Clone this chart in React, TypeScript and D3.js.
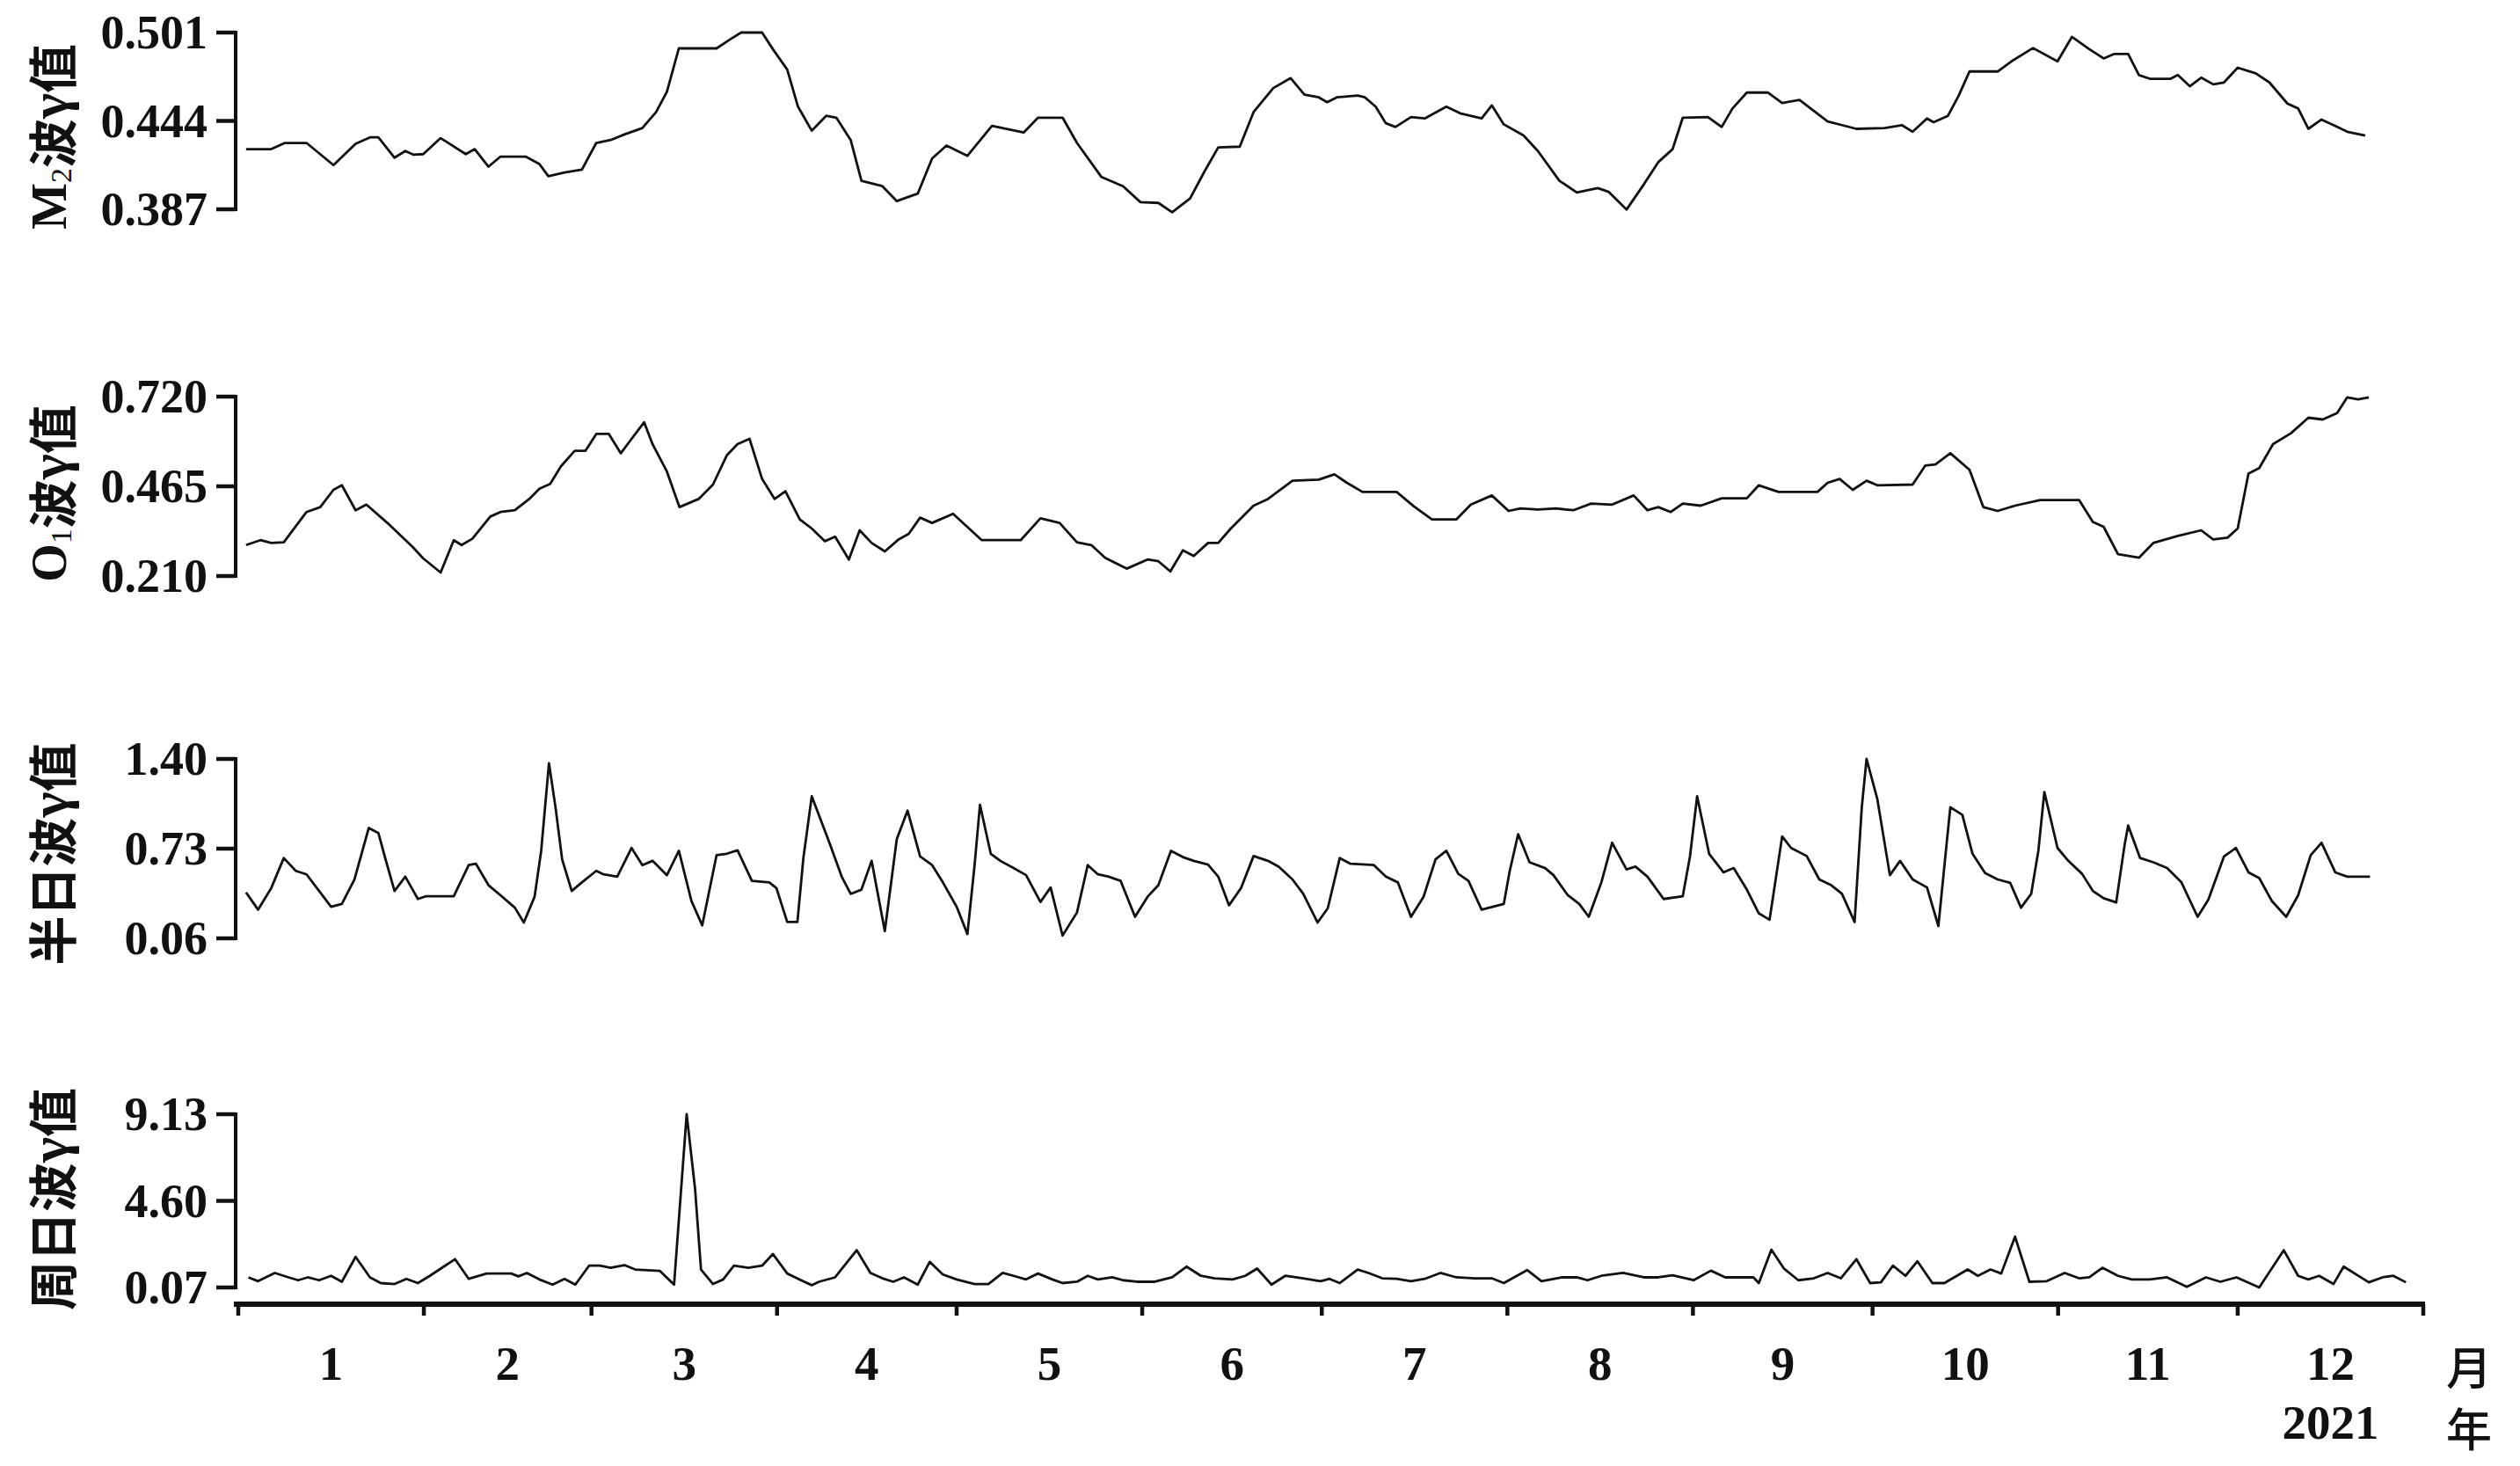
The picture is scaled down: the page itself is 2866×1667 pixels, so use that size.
import React from 'react';
import * as d3 from 'd3';

// month axis
const monthLabels = ['1', '2', '3', '4', '5', '6', '7', '8', '9', '10', '11', '12'];
const yearLabel = '2021';
const monthUnit = '月';
const yearUnit = '年';

// y tick values per panel
const m2Ticks = [0.387, 0.444, 0.501];
const o1Ticks = [0.210, 0.465, 0.720];
const semiTicks = [0.06, 0.73, 1.40];
const diurnalTicks = [0.07, 4.60, 9.13];

// [day of year, gamma value]
const m2Data: [number, number][] = [
  [1.3, 0.4258], [5.5, 0.4258], [7.8, 0.4298], [11.4, 0.4298], [15.9, 0.4155], [19.6, 0.4293],
  [22.0, 0.4334], [23.4, 0.4334], [26.1, 0.4203], [27.9, 0.4246], [29.3, 0.4222], [30.9, 0.4226],
  [33.8, 0.4329], [38.0, 0.4226], [39.5, 0.4258], [41.8, 0.4145], [43.8, 0.4210], [48.0, 0.4210],
  [50.3, 0.4162], [51.8, 0.4083], [54.5, 0.4107], [57.4, 0.4126], [59.8, 0.4298], [62.2, 0.4317],
  [64.5, 0.4353], [67.5, 0.4394], [69.8, 0.4497], [71.6, 0.4628], [73.6, 0.4908], [79.9, 0.4908],
  [82.2, 0.4967], [84.0, 0.5010], [87.5, 0.5010], [89.3, 0.4903], [91.7, 0.4771], [93.5, 0.4532],
  [95.8, 0.4377], [98.2, 0.4473], [99.9, 0.4461], [102.3, 0.4317], [104.1, 0.4054], [107.6, 0.4019],
  [110.0, 0.3923], [113.5, 0.3971], [115.9, 0.4198], [118.3, 0.4281], [121.8, 0.4215], [125.9, 0.4408],
  [131.2, 0.4365], [133.6, 0.4461], [137.7, 0.4461], [140.1, 0.4298], [144.2, 0.4078], [147.8, 0.4019],
  [150.7, 0.3916], [153.7, 0.3911], [156.0, 0.3851], [159.0, 0.3940], [161.4, 0.4114], [163.7, 0.4269],
  [167.3, 0.4274], [169.6, 0.4497], [172.9, 0.4652], [175.8, 0.4716], [178.1, 0.4609], [180.5, 0.4592],
  [181.9, 0.4561], [183.5, 0.4592], [187.0, 0.4604], [188.2, 0.4592], [190.0, 0.4532], [191.7, 0.4425],
  [193.3, 0.4401], [195.9, 0.4465], [198.2, 0.4456], [201.8, 0.4532], [204.1, 0.4489], [207.7, 0.4456],
  [209.4, 0.4540], [211.4, 0.4418], [214.7, 0.4346], [217.1, 0.4246], [220.7, 0.4054], [223.6, 0.3978],
  [227.1, 0.4007], [228.9, 0.3983], [231.9, 0.3868], [234.8, 0.4031], [237.2, 0.4174], [239.6, 0.4258],
  [241.3, 0.4461], [245.5, 0.4465], [247.8, 0.4401], [249.6, 0.4520], [252.0, 0.4623], [255.5, 0.4623],
  [257.9, 0.4556], [260.8, 0.4575], [265.5, 0.4437], [267.9, 0.4413], [270.3, 0.4389], [275.0, 0.4394],
  [277.9, 0.4413], [279.7, 0.4370], [282.1, 0.4456], [283.2, 0.4432], [285.6, 0.4473], [287.4, 0.4604],
  [289.2, 0.4759], [293.9, 0.4759], [296.2, 0.4824], [299.8, 0.4910], [303.9, 0.4824], [306.3, 0.4982],
  [309.2, 0.4903], [311.6, 0.4843], [313.4, 0.4872], [315.7, 0.4872], [317.5, 0.4736], [319.3, 0.4712],
  [322.8, 0.4712], [324.0, 0.4736], [326.0, 0.4664], [327.9, 0.4719], [329.9, 0.4676], [331.7, 0.4688],
  [334.0, 0.4783], [337.0, 0.4747], [339.3, 0.4688], [342.3, 0.4552], [344.1, 0.4520], [345.8, 0.4389],
  [348.0, 0.4449], [350.0, 0.4413], [352.3, 0.4370], [355.3, 0.4346],
];

const o1Data: [number, number][] = [
  [1.3, 0.298], [3.7, 0.312], [5.5, 0.304], [7.6, 0.306], [11.4, 0.392], [13.7, 0.406], [15.9, 0.455],
  [17.3, 0.468], [19.6, 0.397], [21.4, 0.413], [24.9, 0.361], [29.1, 0.293], [30.9, 0.260], [33.8, 0.220],
  [36.0, 0.312], [37.3, 0.298], [39.1, 0.316], [42.1, 0.379], [43.8, 0.392], [46.2, 0.397], [48.6, 0.429],
  [50.3, 0.458], [52.1, 0.472], [53.9, 0.522], [56.2, 0.566], [58.0, 0.566], [59.8, 0.614], [61.9, 0.614],
  [63.9, 0.559], [65.7, 0.600], [67.8, 0.647], [69.2, 0.585], [71.6, 0.507], [73.7, 0.406], [76.9, 0.429],
  [79.3, 0.470], [81.6, 0.553], [83.4, 0.585], [85.4, 0.600], [87.5, 0.486], [89.6, 0.429], [91.4, 0.451],
  [93.8, 0.371], [95.8, 0.345], [98.0, 0.309], [99.7, 0.322], [102.0, 0.257], [103.8, 0.340], [105.8, 0.304],
  [108.0, 0.280], [110.3, 0.314], [112.0, 0.330], [113.9, 0.376], [115.9, 0.361], [119.4, 0.387],
  [124.2, 0.312], [130.7, 0.312], [134.0, 0.374], [137.2, 0.361], [140.1, 0.306], [142.5, 0.298],
  [144.8, 0.262], [148.4, 0.231], [151.9, 0.257], [153.7, 0.252], [155.7, 0.223], [157.8, 0.283],
  [159.6, 0.267], [162.0, 0.304], [163.7, 0.304], [165.8, 0.345], [169.6, 0.410], [172.0, 0.429],
  [176.1, 0.481], [180.5, 0.484], [183.1, 0.499], [185.2, 0.475], [187.8, 0.449], [193.5, 0.449],
  [196.4, 0.408], [199.4, 0.371], [203.5, 0.371], [205.9, 0.413], [209.4, 0.439], [212.2, 0.395],
  [214.2, 0.402], [217.1, 0.399], [220.1, 0.402], [223.0, 0.397], [226.0, 0.416], [229.5, 0.413],
  [233.1, 0.439], [235.4, 0.397], [237.2, 0.406], [239.3, 0.392], [241.3, 0.416], [244.3, 0.410],
  [247.8, 0.431], [252.0, 0.431], [254.0, 0.468], [257.3, 0.449], [263.8, 0.449], [265.5, 0.475],
  [267.5, 0.486], [269.7, 0.455], [272.0, 0.481], [273.8, 0.468], [279.7, 0.470], [281.8, 0.524],
  [283.5, 0.527], [286.0, 0.559], [289.2, 0.512], [291.5, 0.406], [293.9, 0.395], [296.8, 0.410],
  [301.0, 0.426], [307.5, 0.426], [309.8, 0.364], [311.6, 0.350], [314.0, 0.272], [317.5, 0.262],
  [319.9, 0.304], [324.0, 0.324], [327.9, 0.340], [329.9, 0.314], [332.3, 0.319], [334.0, 0.345],
  [335.8, 0.501], [337.6, 0.517], [339.9, 0.585], [342.9, 0.616], [345.8, 0.660], [348.2, 0.655],
  [350.6, 0.673], [352.3, 0.718], [354.1, 0.712], [355.9, 0.718],
];

const semiDiurnalData: [number, number][] = [
  [1.3, 0.403], [3.3, 0.274], [5.5, 0.435], [7.6, 0.660], [9.6, 0.564], [11.4, 0.538], [13.5, 0.414],
  [15.5, 0.296], [17.3, 0.317], [19.4, 0.500], [21.8, 0.885], [23.4, 0.847], [24.6, 0.650], [26.1, 0.414],
  [27.9, 0.521], [30.0, 0.354], [31.4, 0.375], [36.0, 0.375], [38.5, 0.607], [39.7, 0.617], [41.8, 0.457],
  [43.8, 0.382], [46.2, 0.289], [47.7, 0.178], [49.5, 0.371], [50.6, 0.714], [51.9, 1.368], [53.0, 1.036],
  [54.1, 0.650], [55.7, 0.414], [57.4, 0.478], [59.8, 0.564], [61.0, 0.538], [63.3, 0.521], [65.7, 0.735],
  [67.5, 0.607], [69.2, 0.639], [71.6, 0.532], [73.6, 0.714], [75.7, 0.339], [77.5, 0.157], [79.9, 0.682],
  [81.6, 0.692], [83.4, 0.718], [85.8, 0.489], [88.7, 0.478], [89.9, 0.435], [91.7, 0.182], [93.4, 0.182],
  [94.4, 0.660], [95.8, 1.121], [98.8, 0.768], [100.8, 0.521], [102.3, 0.392], [104.1, 0.424], [105.8, 0.639],
  [108.0, 0.114], [110.0, 0.800], [111.8, 1.014], [113.9, 0.671], [115.9, 0.607], [117.7, 0.478],
  [120.0, 0.296], [121.8, 0.092], [123.0, 0.607], [123.9, 1.057], [125.7, 0.692], [127.3, 0.639],
  [129.5, 0.585], [131.6, 0.532], [134.0, 0.332], [135.7, 0.440], [137.7, 0.081], [140.1, 0.253],
  [141.9, 0.607], [143.6, 0.538], [145.4, 0.521], [147.4, 0.489], [149.8, 0.221], [151.9, 0.371],
  [153.7, 0.457], [155.8, 0.714], [157.8, 0.667], [159.6, 0.639], [162.0, 0.611], [163.7, 0.521],
  [165.5, 0.307], [167.5, 0.435], [169.6, 0.675], [172.0, 0.639], [173.8, 0.596], [176.1, 0.500],
  [177.9, 0.392], [180.3, 0.178], [182.0, 0.285], [184.0, 0.660], [185.8, 0.617], [189.7, 0.607],
  [191.7, 0.521], [193.7, 0.478], [195.9, 0.221], [198.0, 0.371], [200.0, 0.650], [201.8, 0.714],
  [203.8, 0.542], [205.5, 0.489], [207.7, 0.274], [211.4, 0.317], [212.4, 0.564], [213.8, 0.838],
  [215.7, 0.628], [218.3, 0.585], [219.7, 0.532], [222.1, 0.382], [224.0, 0.317], [225.6, 0.221],
  [227.7, 0.478], [229.5, 0.774], [231.9, 0.575], [233.4, 0.596], [235.4, 0.521], [238.1, 0.354],
  [241.3, 0.375], [242.5, 0.671], [243.7, 1.121], [245.7, 0.692], [248.1, 0.553], [249.8, 0.585],
  [252.0, 0.424], [254.0, 0.247], [255.8, 0.199], [257.9, 0.821], [259.4, 0.735], [262.0, 0.675],
  [264.1, 0.500], [266.1, 0.457], [267.9, 0.392], [270.0, 0.182], [271.2, 1.036], [272.0, 1.400],
  [273.8, 1.100], [275.9, 0.532], [277.6, 0.639], [279.7, 0.500], [282.1, 0.440], [284.0, 0.152],
  [285.4, 0.778], [286.0, 1.040], [288.0, 0.982], [289.7, 0.692], [291.8, 0.547], [293.9, 0.500],
  [296.0, 0.474], [297.8, 0.289], [299.5, 0.392], [300.7, 0.714], [301.7, 1.153], [303.9, 0.735],
  [305.7, 0.639], [308.0, 0.542], [309.8, 0.414], [311.6, 0.360], [313.7, 0.328], [315.1, 0.757],
  [315.7, 0.903], [317.7, 0.660], [319.9, 0.628], [322.2, 0.585], [324.6, 0.478], [327.3, 0.221],
  [329.1, 0.349], [331.7, 0.671], [333.7, 0.735], [335.8, 0.553], [337.6, 0.510], [339.7, 0.339],
  [342.1, 0.221], [344.1, 0.382], [346.2, 0.682], [348.0, 0.774], [350.3, 0.553], [352.3, 0.521],
  [356.1, 0.521],
];

const diurnalData: [number, number][] = [
  [1.7, 0.60], [3.3, 0.40], [6.1, 0.83], [8.4, 0.60], [10.0, 0.45], [11.6, 0.60], [13.5, 0.45], [15.5, 0.68],
  [17.3, 0.37], [19.6, 1.67], [22.0, 0.60], [23.8, 0.30], [26.1, 0.25], [28.1, 0.52], [30.0, 0.30],
  [32.0, 0.68], [36.2, 1.55], [38.5, 0.52], [41.5, 0.80], [45.6, 0.80], [46.8, 0.65], [48.2, 0.83],
  [50.3, 0.49], [52.5, 0.22], [54.5, 0.52], [56.3, 0.22], [58.6, 1.21], [60.4, 1.21], [62.2, 1.10],
  [64.5, 1.24], [66.3, 1.01], [70.4, 0.94], [72.8, 0.22], [74.9, 9.13], [76.3, 5.25], [77.3, 1.01],
  [79.3, 0.25], [81.0, 0.49], [82.8, 1.21], [85.2, 1.10], [87.5, 1.21], [89.3, 1.82], [91.7, 0.80],
  [94.0, 0.45], [95.8, 0.19], [97.0, 0.37], [99.7, 0.60], [103.3, 2.02], [105.6, 0.83], [107.6, 0.55],
  [109.4, 0.37], [111.2, 0.60], [113.5, 0.22], [115.5, 1.41], [117.7, 0.75], [120.0, 0.49], [123.0, 0.25],
  [125.3, 0.25], [127.7, 0.83], [129.5, 0.68], [131.6, 0.49], [133.6, 0.80], [136.0, 0.49], [137.7, 0.30],
  [140.1, 0.37], [141.9, 0.68], [143.6, 0.49], [146.0, 0.60], [147.8, 0.45], [150.1, 0.37], [153.1, 0.37],
  [156.0, 0.60], [158.4, 1.16], [160.8, 0.68], [163.1, 0.55], [166.1, 0.49], [168.2, 0.68], [170.2, 1.06],
  [172.6, 0.22], [174.9, 0.68], [177.9, 0.55], [180.8, 0.40], [182.3, 0.52], [184.0, 0.30], [187.0, 1.01],
  [188.8, 0.83], [191.1, 0.55], [193.5, 0.52], [195.9, 0.40], [198.2, 0.52], [200.8, 0.83], [203.5, 0.60],
  [206.5, 0.55], [209.4, 0.55], [211.4, 0.30], [215.3, 0.98], [217.7, 0.40], [221.2, 0.60], [223.6, 0.60],
  [225.4, 0.45], [227.7, 0.68], [231.3, 0.83], [234.8, 0.60], [237.2, 0.60], [239.6, 0.71], [243.1, 0.45],
  [246.0, 0.95], [248.4, 0.60], [253.1, 0.60], [254.0, 0.30], [256.1, 2.05], [258.2, 1.06], [260.6, 0.45],
  [263.2, 0.55], [265.5, 0.83], [267.7, 0.55], [270.3, 1.55], [272.6, 0.30], [274.4, 0.34], [276.4, 1.21],
  [278.5, 0.68], [280.5, 1.44], [283.0, 0.30], [285.0, 0.30], [288.9, 1.01], [290.6, 0.68], [292.7, 1.01],
  [294.5, 0.80], [296.8, 2.73], [299.2, 0.37], [302.1, 0.40], [305.1, 0.83], [307.5, 0.55], [309.2, 0.60],
  [311.4, 1.10], [314.0, 0.68], [316.3, 0.49], [319.3, 0.49], [322.2, 0.60], [325.5, 0.10], [328.7, 0.60],
  [331.1, 0.37], [333.8, 0.60], [337.6, 0.07], [341.7, 2.02], [344.1, 0.68], [345.8, 0.49], [347.6, 0.68],
  [350.0, 0.25], [351.7, 1.16], [355.9, 0.34], [358.2, 0.60], [360.0, 0.68], [362.1, 0.34],
];

const W = 2866;
const H = 1667;
const AXIS_X = 268;
const X_END = 2756;
const X_AXIS_Y = 1483;
const SERIF = '"Liberation Serif", "Times New Roman", serif';
const CJK = '"Noto Sans CJK SC", sans-serif';
const INK = '#111';

const yearStart = new Date(Date.UTC(2021, 0, 1));
const yearEnd = new Date(Date.UTC(2022, 0, 1));
const dayToDate = (d: number) => new Date(yearStart.getTime() + d * 86400000);

const x = d3.scaleUtc().domain([yearStart, yearEnd]).range([AXIS_X + 3, X_END]);

type Panel = {
  name: string;
  sub?: string;
  data: [number, number][];
  ticks: number[];
  fmt: string;
  top: number;
  bottom: number;
  titleShift: number;
};

const panels: Panel[] = [
  { name: 'M', sub: '2', data: m2Data, ticks: m2Ticks, fmt: '.3f', top: 37, bottom: 238, titleShift: 18 },
  { name: 'O', sub: '1', data: o1Data, ticks: o1Ticks, fmt: '.3f', top: 451, bottom: 655, titleShift: 8 },
  { name: '半日', data: semiDiurnalData, ticks: semiTicks, fmt: '.2f', top: 863, bottom: 1067, titleShift: 6 },
  { name: '周日', data: diurnalData, ticks: diurnalTicks, fmt: '.2f', top: 1267, bottom: 1464, titleShift: -2 },
];

function PanelView({ p }: { p: Panel }) {
  const y = d3.scaleLinear().domain([p.ticks[0], p.ticks[p.ticks.length - 1]]).range([p.bottom, p.top]);
  const line = d3
    .line<[number, number]>()
    .x((d) => x(dayToDate(d[0])))
    .y((d) => y(d[1]));
  const fmt = d3.format(p.fmt);
  const cy = (p.top + p.bottom) / 2 + p.titleShift;
  return (
    <g>
      <path d={line(p.data) || ''} fill="none" stroke={INK} strokeWidth={2.8} strokeLinejoin="round" />
      <line x1={AXIS_X} x2={AXIS_X} y1={p.top - 2} y2={p.bottom + 2} stroke={INK} strokeWidth={4} />
      {p.ticks.map((t) => (
        <g key={t}>
          <line x1={AXIS_X - 22} x2={AXIS_X} y1={y(t)} y2={y(t)} stroke={INK} strokeWidth={4.5} />
          <text
            x={AXIS_X - 32}
            y={y(t) + 18}
            textAnchor="end"
            fontFamily={SERIF}
            fontWeight="bold"
            fontSize={54}
            fill={INK}
          >
            {fmt(t)}
          </text>
        </g>
      ))}
      <text
        transform={`translate(56, ${cy}) rotate(-90)`}
        textAnchor="middle"
        dominantBaseline="central"
        fontSize={56}
        fill={INK}
      >
        {p.sub ? (
          <>
            <tspan fontFamily={SERIF} fontWeight="bold">{p.name}</tspan>
            <tspan fontFamily={SERIF} fontSize={34} dy={13}>{p.sub}</tspan>
            <tspan fontFamily={CJK} fontWeight={700} dy={-13}>波</tspan>
          </>
        ) : (
          <tspan fontFamily={CJK} fontWeight={700}>{p.name + '波'}</tspan>
        )}
        <tspan fontFamily={SERIF} fontWeight="bold" fontSize={62}>γ</tspan>
        <tspan fontFamily={CJK} fontWeight={700}>值</tspan>
      </text>
    </g>
  );
}

export default function App() {
  const bounds = [...d3.utcMonth.range(yearStart, yearEnd), yearEnd];
  const months = d3.utcMonth.range(yearStart, yearEnd);
  return (
    <svg
      width={W}
      height={H}
      style={{ position: 'absolute', left: 0, top: 0, background: '#fff' }}
    >
      <rect width={W} height={H} fill="#fff" />
      {panels.map((p) => (
        <PanelView key={p.name} p={p} />
      ))}
      <line x1={AXIS_X - 2} x2={X_END + 2} y1={X_AXIS_Y} y2={X_AXIS_Y} stroke={INK} strokeWidth={6} />
      {bounds.map((b, i) => (
        <line
          key={i}
          x1={x(b)}
          x2={x(b)}
          y1={X_AXIS_Y}
          y2={X_AXIS_Y + 13}
          stroke={INK}
          strokeWidth={4.5}
        />
      ))}
      {months.map((m, i) => {
        const next = d3.utcMonth.offset(m, 1);
        const mid = new Date((m.getTime() + next.getTime()) / 2);
        return (
          <text
            key={i}
            x={x(mid)}
            y={1569}
            textAnchor="middle"
            fontFamily={SERIF}
            fontWeight="bold"
            fontSize={55}
            fill={INK}
          >
            {monthLabels[i]}
          </text>
        );
      })}
      <text x={x(dayToDate(349.5))} y={1636} textAnchor="middle" fontFamily={SERIF} fontWeight="bold" fontSize={55} fill={INK}>
        {yearLabel}
      </text>
      <text x={2808} y={1575} textAnchor="middle" fontFamily={CJK} fontWeight={500} fontSize={52} fill={INK}>
        {monthUnit}
      </text>
      <text x={2808} y={1645} textAnchor="middle" fontFamily={CJK} fontWeight={500} fontSize={52} fill={INK}>
        {yearUnit}
      </text>
    </svg>
  );
}
